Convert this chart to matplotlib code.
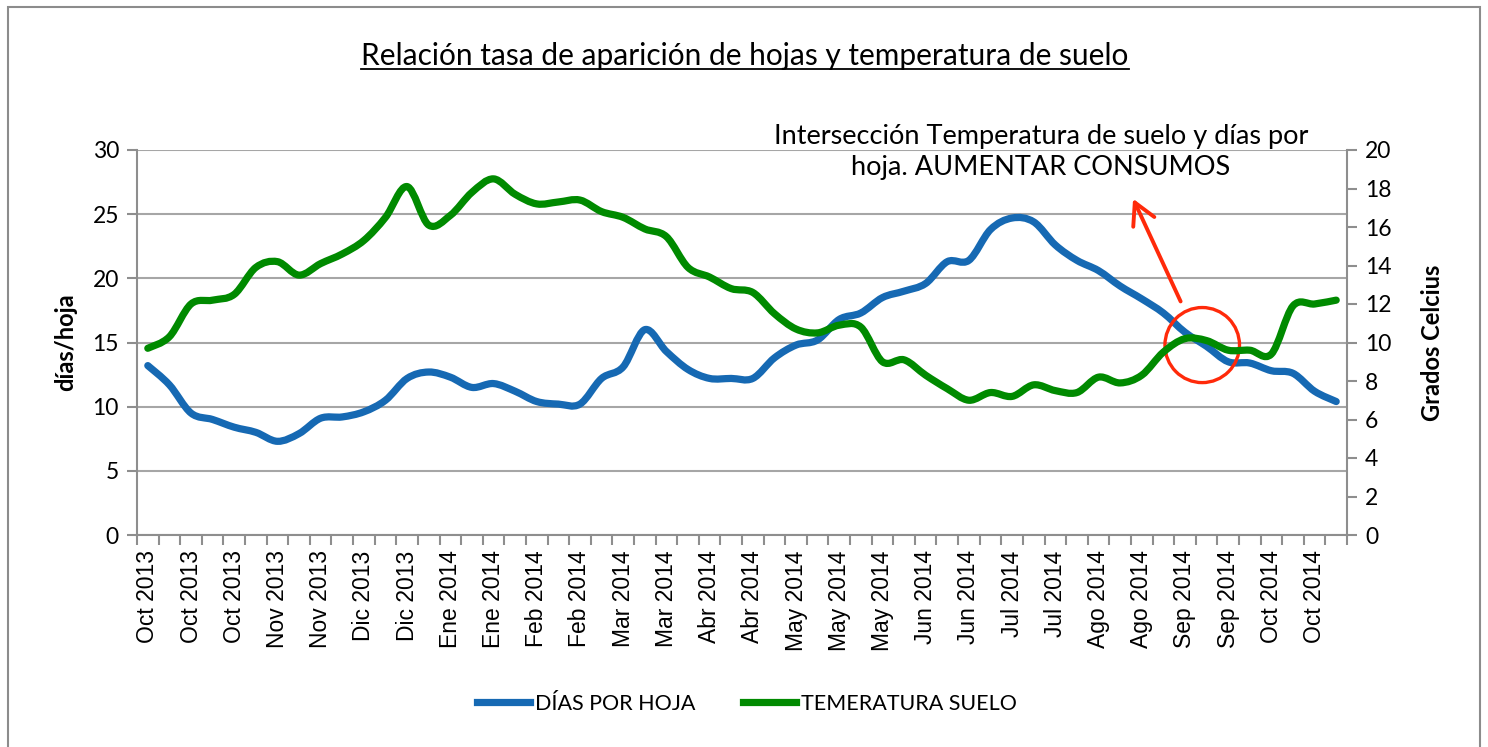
import numpy as np
import matplotlib
matplotlib.use("Agg")
import matplotlib.pyplot as plt
from matplotlib.path import Path
from matplotlib.patches import PathPatch, Ellipse, Rectangle
from matplotlib.lines import Line2D

# ---------------- data ----------------
tick_labels = ["Oct 2013", "Oct 2013", "Oct 2013", "Nov 2013", "Nov 2013", "Dic 2013", "Dic 2013",
               "Ene 2014", "Ene 2014", "Feb 2014", "Feb 2014", "Mar 2014", "Mar 2014", "Abr 2014",
               "Abr 2014", "May 2014", "May 2014", "May 2014", "Jun 2014", "Jun 2014", "Jul 2014",
               "Jul 2014", "Ago 2014", "Ago 2014", "Sep 2014", "Sep 2014", "Oct 2014", "Oct 2014"]

dias_por_hoja = [13.2, 11.7, 9.5, 9.0, 8.4, 8.0, 7.3, 7.9, 9.1, 9.2, 9.6, 10.5, 12.2, 12.7,
                 12.3, 11.5, 11.8, 11.2, 10.4, 10.2, 10.2, 12.2, 13.1, 16.0, 14.3, 12.9, 12.2, 12.2,
                 12.2, 13.8, 14.8, 15.2, 16.8, 17.3, 18.5, 19.0, 19.6, 21.3, 21.4, 23.8, 24.7, 24.4,
                 22.6, 21.4, 20.6, 19.4, 18.4, 17.3, 15.8, 14.7, 13.5, 13.4, 12.8, 12.6, 11.2, 10.4]

temperatura_suelo = [9.7, 10.3, 12.0, 12.2, 12.5, 13.9, 14.2, 13.5, 14.1, 14.6, 15.3, 16.5, 18.1, 16.1,
                     16.6, 17.8, 18.5, 17.7, 17.2, 17.3, 17.4, 16.8, 16.5, 15.9, 15.5, 13.9, 13.4, 12.8,
                     12.6, 11.5, 10.7, 10.5, 10.9, 10.8, 9.0, 9.1, 8.3, 7.6, 7.0, 7.4, 7.2, 7.8,
                     7.5, 7.4, 8.2, 7.9, 8.3, 9.5, 10.2, 10.1, 9.6, 9.6, 9.4, 11.9, 12.0, 12.2]

series_names = ["DÍAS POR HOJA", "TEMERATURA SUELO"]
colors = ["#1669b3", "#008a00"]

# ---------------- helpers ----------------
def smooth_path(x, y):
    """Excel-like smoothed line: cubic Bezier segments through the data points."""
    x = np.asarray(x, float)
    y = np.asarray(y, float)
    n = len(x)
    verts = [(x[0], y[0])]
    codes = [Path.MOVETO]
    for i in range(n - 1):
        i0 = max(i - 1, 0)
        i3 = min(i + 2, n - 1)
        c1 = (x[i] + (x[i + 1] - x[i0]) / 6.0, y[i] + (y[i + 1] - y[i0]) / 6.0)
        c2 = (x[i + 1] - (x[i3] - x[i]) / 6.0, y[i + 1] - (y[i3] - y[i]) / 6.0)
        verts += [c1, c2, (x[i + 1], y[i + 1])]
        codes += [Path.CURVE4, Path.CURVE4, Path.CURVE4]
    return Path(verts, codes)

W, H = 1488, 747
fig = plt.figure(figsize=(W / 100, H / 100), dpi=100)
fig.patch.set_facecolor("white")

# outer chart border
fig.patches.append(Rectangle((8 / W, -0.05), (1480 - 8) / W, 1 - 7 / H + 0.05,
                             transform=fig.transFigure, fill=False,
                             edgecolor="#8c8c8c", lw=1.5, zorder=0))

left, right, top, bottom = 137 / W, 1347 / W, 1 - 150 / H, 1 - 535 / H
ax = fig.add_axes([left, bottom, right - left, top - bottom])
ax2 = ax.twinx()

n = len(dias_por_hoja)
x = np.arange(n)

grey = "#8e8e8e"
ax.set_xlim(-0.5, n - 0.5)
ax.set_ylim(0, 30)
ax2.set_ylim(0, 20)
ax.set_yticks(np.arange(0, 31, 5))
ax2.set_yticks(np.arange(0, 21, 2))
ax.grid(axis="y", color="#a6a6a6", lw=1.5)
ax.set_axisbelow(True)

for a in (ax, ax2):
    for s in a.spines.values():
        s.set_color(grey)
        s.set_linewidth(1.5)
    a.spines["top"].set_visible(False)

ax.spines["right"].set_visible(False)
ax2.spines["left"].set_visible(False)
ax2.spines["bottom"].set_visible(False)

tickfont = "Lato"
ax.tick_params(axis="y", colors=grey, length=7, width=1.5, labelcolor="black",
               labelsize=16.5, pad=6)
ax2.tick_params(axis="y", colors=grey, length=7, width=1.5, labelcolor="black",
                labelsize=16.5, pad=6)
for lab in ax.get_yticklabels() + ax2.get_yticklabels():
    lab.set_family(tickfont)

# x axis: boundaries as minor ticks, labels every second category
ax.set_xticks(np.arange(-0.5, n, 1.0), minor=True)
ax.set_xticks(np.arange(0, n, 2))
ax.set_xticklabels(tick_labels, rotation=90, fontfamily="Liberation Sans", fontsize=16.5)
ax.tick_params(axis="x", which="major", length=0, pad=11)
ax.tick_params(axis="x", which="minor", length=7, width=1.5, colors=grey)

ax.set_ylabel("días/hoja", fontfamily="Lato", fontweight="bold", fontsize=17, labelpad=11)
ax2.set_ylabel("Grados Celcius", fontfamily="Lato", fontweight="bold", fontsize=17, labelpad=21)

# smoothed lines
p1 = PathPatch(smooth_path(x, dias_por_hoja), fill=False, edgecolor=colors[0], lw=5.2,
               capstyle="round", joinstyle="round", zorder=3)
ax.add_patch(p1)
p2 = PathPatch(smooth_path(x, temperatura_suelo), fill=False, edgecolor=colors[1], lw=5.2,
               capstyle="round", joinstyle="round", zorder=3)
ax2.add_patch(p2)

# annotation: circle, arrow, text
ell = Ellipse((48.8, 14.8), 3.45, 5.85, fill=False, edgecolor="#ff2a0a", lw=2.4, zorder=5)
ax.add_patch(ell)
ax.annotate("", xy=(45.6, 26.2), xytext=(47.8, 18.2),
            arrowprops=dict(arrowstyle="->,head_length=0.7,head_width=0.38", color="#ff2a0a",
                            lw=2.8, shrinkA=0, shrinkB=0, mutation_scale=22), zorder=5)
fig.text(1041 / W, 1 - 180 / H, "Intersección Temperatura de suelo y días por\nhoja. AUMENTAR CONSUMOS",
         ha="center", va="bottom", fontfamily="Lato", fontsize=19.5, linespacing=1.3)

# title with underline
title = fig.text(745 / W, 1 - 65 / H, "Relación tasa de aparición de hojas y temperatura de suelo",
                 ha="center", va="baseline", fontfamily="Lato", fontsize=21.5)
fig.canvas.draw()
bb = title.get_window_extent()
fig.add_artist(Line2D([bb.x0 / W, bb.x1 / W], [(1 - 69 / H), (1 - 69 / H)],
                      transform=fig.transFigure, color="black", lw=1.3))

# legend
handles = [Line2D([], [], color=colors[0], lw=5.2), Line2D([], [], color=colors[1], lw=5.2)]
fig.legend(handles, series_names, loc="center", bbox_to_anchor=(747 / W, 1 - 704 / H),
           ncol=2, frameon=False, prop=dict(family="Lato", size=15.5), handlelength=2.45,
           handletextpad=0.25, columnspacing=2.2)

fig.savefig("out.png", dpi=100, facecolor="white")
